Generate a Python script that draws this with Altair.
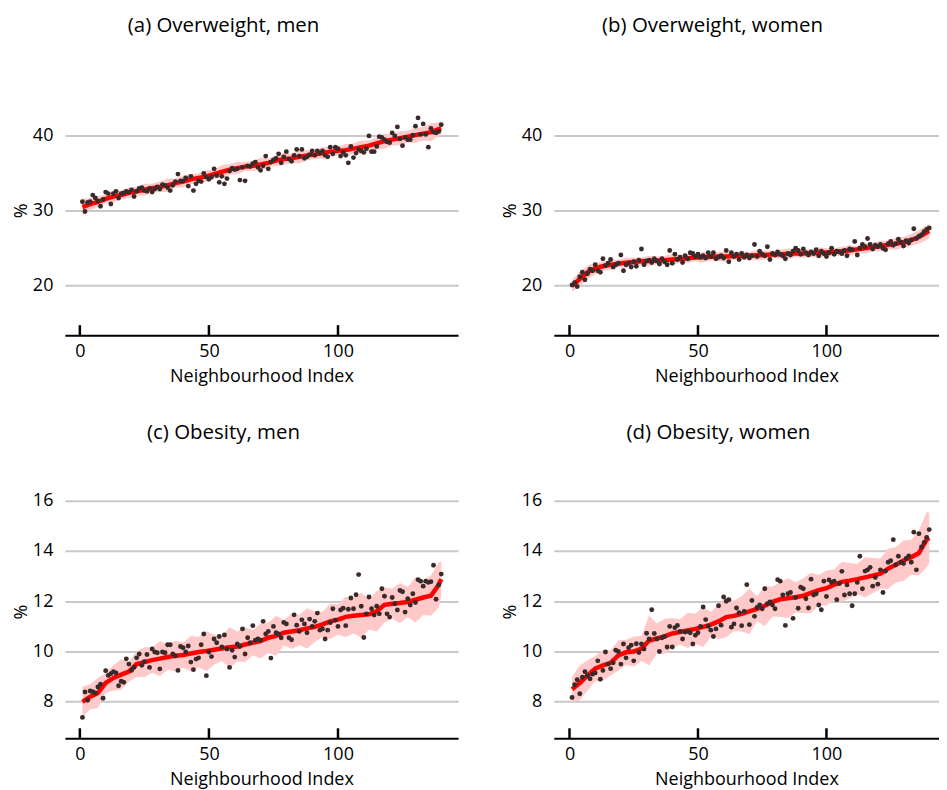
import altair as alt
import pandas as pd

idx = list(range(1, 141))
knots = [1, 4, 7, 10, 13, 16, 19, 22, 25, 28, 31, 34, 37, 40, 43, 46, 49, 52, 55, 58,
         61, 64, 67, 70, 73, 76, 79, 82, 85, 88, 91, 94, 97, 100, 103, 106, 109, 112,
         115, 118, 121, 124, 127, 130, 133, 136, 139, 140]
tick_vals = [0, 50, 100]

titles = ["(a) Overweight, men", "(b) Overweight, women", "(c) Obesity, men", "(d) Obesity, women"]

# ---- (a) Overweight, men ----
pts_a = [31.2, 29.9, 31.1, 31.2, 32.1, 31.7, 31.3, 30.6, 31.5, 32.5,
         32.3, 30.9, 32.3, 32.6, 31.7, 32.3, 32.4, 32.6, 32.5, 32.8,
         31.9, 32.6, 33.0, 33.1, 32.7, 32.6, 33.0, 32.5, 32.9, 33.2,
         32.9, 33.5, 33.4, 33.1, 32.7, 33.4, 33.9, 34.9, 34.0, 34.0,
         34.4, 33.3, 34.6, 32.7, 33.6, 34.0, 33.9, 35.0, 34.5, 34.2,
         34.5, 35.6, 34.7, 33.8, 34.6, 33.6, 34.3, 35.3, 35.7, 35.5,
         35.6, 34.1, 35.8, 34.0, 36.0, 35.9, 36.3, 36.5, 35.8, 35.4,
         36.0, 37.3, 35.6, 36.5, 36.8, 37.0, 37.6, 36.4, 37.2, 37.9,
         36.9, 36.6, 37.4, 38.2, 37.3, 38.2, 37.0, 37.2, 37.5, 38.0,
         37.4, 38.0, 37.7, 38.0, 37.4, 37.2, 38.5, 37.6, 38.5, 38.3,
         37.3, 37.8, 37.4, 36.4, 38.6, 37.1, 37.7, 38.2, 38.0, 37.8,
         38.3, 40.0, 37.9, 37.9, 38.6, 39.9, 39.8, 39.5, 39.2, 39.1,
         40.4, 40.0, 41.2, 39.6, 38.7, 39.8, 39.5, 39.5, 40.1, 41.3,
         42.4, 40.2, 41.6, 40.2, 38.5, 41.0, 40.5, 40.4, 40.6, 41.5]
line_a = [30.5, 30.9, 31.2, 31.6, 31.9, 32.1, 32.4, 32.6, 32.8, 33.0,
          33.2, 33.4, 33.7, 33.9, 34.2, 34.4, 34.6, 34.9, 35.2, 35.5,
          35.7, 35.9, 36.0, 36.2, 36.4, 36.7, 36.9, 37.0, 37.2, 37.4,
          37.5, 37.7, 37.9, 38.0, 38.1, 38.3, 38.5, 38.7, 39.0, 39.3,
          39.5, 39.7, 39.9, 40.1, 40.3, 40.5, 40.9, 41.0]
hw_a = [1.1, 0.8, 0.7, 0.6, 0.8, 0.6, 0.7, 0.6, 0.8, 0.6,
        0.7, 0.9, 0.6, 0.8, 0.7, 0.6, 0.8, 0.6, 0.9, 0.7,
        0.8, 0.6, 0.7, 0.9, 0.6, 0.7, 0.8, 0.6, 0.9, 0.7,
        0.6, 0.8, 0.7, 0.6, 0.8, 0.7, 0.9, 0.7, 0.8, 1.0,
        0.8, 0.9, 0.8, 1.0, 0.9, 1.2, 0.9, 1.0]

# ---- (b) Overweight, women ----
pts_b = [20.1, 20.4, 19.9, 21.2, 21.8, 20.8, 21.6, 22.2, 22.0, 22.8,
         22.0, 21.8, 23.6, 22.7, 23.0, 23.5, 22.5, 22.8, 23.0, 24.1,
         22.0, 22.8, 23.0, 22.5, 23.2, 22.6, 23.4, 24.9, 22.8, 23.3,
         23.4, 23.1, 23.6, 23.3, 22.9, 23.6, 23.2, 22.8, 24.7, 23.0,
         24.2, 23.5, 23.8, 23.1, 24.0, 23.6, 24.4, 24.3, 23.9, 24.2,
         23.8, 24.0, 23.7, 24.4, 23.9, 24.4, 23.6, 23.8, 24.0, 23.7,
         24.7, 23.2, 24.4, 23.9, 24.2, 23.5, 24.3, 23.8, 24.1, 23.7,
         24.0, 25.5, 23.9, 24.6, 24.2, 24.0, 25.2, 23.5, 24.3, 24.1,
         24.5, 24.2, 24.0, 23.6, 24.3, 24.1, 24.6, 25.0, 24.7, 24.2,
         24.9, 24.4, 24.1, 24.5, 24.3, 24.8, 24.0, 24.6, 24.3, 23.9,
         24.4, 25.0, 24.2, 24.6, 24.5, 24.3, 24.7, 24.0, 24.9, 24.8,
         25.9, 24.1, 25.0, 25.5, 25.2, 26.3, 25.5, 24.9, 25.4, 25.2,
         25.5, 25.0, 24.8, 25.6, 25.9, 25.4, 25.6, 26.2, 25.8, 25.3,
         26.0, 25.7, 26.1, 27.6, 26.3, 26.6, 26.8, 27.2, 27.5, 27.7]
line_b = [20.0, 20.9, 21.8, 22.3, 22.6, 22.8, 22.95, 23.05, 23.15, 23.25,
          23.3, 23.35, 23.4, 23.5, 23.55, 23.65, 23.75, 23.8, 23.85, 23.9,
          23.9, 23.95, 24.0, 24.0, 24.05, 24.1, 24.15, 24.2, 24.25, 24.3,
          24.3, 24.35, 24.4, 24.45, 24.5, 24.6, 24.7, 24.85, 25.0, 25.15,
          25.3, 25.45, 25.6, 25.8, 26.1, 26.5, 27.1, 27.3]
hw_b = [0.8, 1.0, 0.9, 0.8, 0.6, 0.7, 0.5, 0.7, 0.6, 0.5,
        0.7, 0.5, 0.6, 0.7, 0.5, 0.6, 0.5, 0.7, 0.5, 0.6,
        0.7, 0.5, 0.6, 0.5, 0.7, 0.6, 0.5, 0.6, 0.7, 0.5,
        0.6, 0.5, 0.7, 0.6, 0.5, 0.6, 0.7, 0.5, 0.7, 0.6,
        0.7, 0.6, 0.8, 0.7, 0.8, 0.9, 1.0, 0.9]

# ---- (c) Obesity, men ----
pts_c = [7.38, 8.39, 8.06, 8.43, 8.40, 8.35, 8.59, 8.70, 8.14, 9.24,
         9.05, 9.12, 9.20, 9.15, 8.64, 8.82, 8.78, 9.71, 9.50, 9.25,
         9.37, 9.75, 9.90, 9.45, 9.60, 9.88, 9.37, 10.10, 9.98, 9.95,
         9.31, 9.98, 9.95, 10.27, 10.27, 9.90, 9.82, 9.25, 10.20, 10.15,
         9.98, 10.22, 9.58, 9.28, 9.70, 9.75, 10.27, 10.70, 9.04, 9.98,
         9.80, 10.50, 10.35, 10.60, 10.18, 10.66, 10.10, 9.37, 10.05, 9.78,
         10.30, 10.20, 10.90, 9.90, 10.55, 10.35, 11.03, 10.45, 10.50, 10.45,
         11.20, 10.70, 10.80, 9.74, 11.00, 10.75, 10.70, 10.55, 11.16, 11.10,
         10.55, 10.47, 11.46, 11.05, 10.80, 11.26, 11.10, 10.75, 11.29, 11.00,
         11.20, 11.53, 10.85, 10.90, 10.50, 10.85, 11.15, 11.70, 11.25, 11.00,
         11.65, 11.72, 11.03, 11.68, 12.13, 11.70, 12.26, 13.06, 11.80, 10.56,
         11.50, 12.17, 11.70, 11.45, 11.80, 11.50, 12.50, 12.20, 11.50, 11.37,
         12.15, 11.90, 11.65, 12.43, 12.38, 11.57, 12.10, 11.85, 12.30, 11.95,
         12.86, 12.80, 12.60, 12.80, 12.75, 12.78, 13.43, 12.08, 12.65, 13.08]
line_c = [8.0, 8.2, 8.35, 8.75, 8.95, 9.08, 9.2, 9.5, 9.58, 9.66,
          9.72, 9.78, 9.83, 9.86, 9.92, 9.98, 10.02, 10.07, 10.12, 10.17,
          10.2, 10.28, 10.35, 10.42, 10.55, 10.62, 10.75, 10.8, 10.85, 10.92,
          10.98, 11.08, 11.2, 11.27, 11.38, 11.42, 11.45, 11.48, 11.6, 11.86,
          11.9, 11.93, 11.97, 12.06, 12.15, 12.22, 12.65, 12.88]
hw_c = [0.6, 0.5, 0.6, 0.4, 0.5, 0.6, 0.4, 0.5, 0.6, 0.5,
        0.7, 0.5, 0.6, 0.5, 0.7, 0.6, 0.8, 0.6, 0.5, 0.8,
        0.6, 0.7, 0.5, 0.7, 0.6, 0.8, 0.5, 0.7, 0.6, 0.8,
        0.6, 0.5, 0.7, 0.6, 0.8, 0.7, 0.9, 0.6, 0.8, 0.7,
        0.6, 0.8, 0.6, 0.9, 0.7, 0.8, 0.9, 0.7]

# ---- (d) Obesity, women ----
pts_d = [8.17, 8.68, 8.88, 8.32, 8.98, 9.20, 9.05, 8.92, 9.10, 9.15,
         9.63, 8.90, 9.25, 9.98, 9.50, 9.32, 9.55, 10.05, 10.00, 9.50,
         10.30, 9.75, 10.15, 10.25, 9.63, 10.31, 9.96, 10.30, 10.10, 10.73,
         10.50, 11.66, 10.72, 10.50, 10.00, 10.55, 10.60, 10.18, 11.00, 10.18,
         10.95, 11.04, 10.80, 10.50, 10.78, 10.80, 10.75, 10.30, 10.65, 10.75,
         11.00, 11.77, 11.27, 11.00, 10.85, 10.60, 10.90, 11.82, 11.05, 12.17,
         12.00, 12.06, 10.97, 11.10, 11.73, 11.55, 11.03, 11.60, 12.66, 11.07,
         12.03, 11.40, 11.75, 11.85, 11.70, 12.50, 11.90, 11.97, 11.85, 11.70,
         12.86, 12.80, 12.25, 11.04, 12.30, 12.35, 11.32, 12.15, 11.72, 12.56,
         12.50, 12.10, 11.73, 12.88, 12.25, 12.30, 11.85, 11.66, 12.80, 12.19,
         12.85, 12.75, 12.80, 12.06, 12.70, 13.19, 12.25, 12.65, 12.30, 11.82,
         12.30, 12.75, 13.79, 12.50, 13.20, 13.25, 13.35, 12.60, 12.95, 12.68,
         13.25, 12.35, 13.20, 13.55, 13.61, 14.45, 13.45, 13.79, 13.55, 13.50,
         13.70, 13.80, 13.55, 14.75, 13.25, 14.69, 14.16, 14.34, 14.54, 14.85]
line_d = [8.5, 8.75, 9.05, 9.32, 9.45, 9.55, 9.85, 9.97, 10.0, 10.12,
          10.44, 10.52, 10.6, 10.72, 10.78, 10.84, 10.9, 10.98, 11.07, 11.2,
          11.37, 11.42, 11.5, 11.6, 11.7, 11.82, 11.98, 12.08, 12.12, 12.16,
          12.22, 12.33, 12.44, 12.52, 12.66, 12.77, 12.82, 12.88, 12.95, 13.02,
          13.1, 13.3, 13.45, 13.62, 13.75, 13.92, 14.45, 14.52]
hw_d = [0.5, 0.7, 0.6, 0.5, 0.6, 0.5, 0.6, 0.5, 0.6, 0.5,
        1.0, 0.6, 0.7, 0.6, 0.5, 0.7, 0.6, 0.8, 0.5, 0.7,
        0.8, 0.6, 0.7, 0.9, 0.5, 0.8, 0.6, 0.7, 0.8, 0.6,
        0.7, 0.8, 0.6, 0.7, 0.6, 0.8, 0.7, 0.6, 0.8, 0.7,
        0.6, 0.8, 0.7, 0.8, 0.7, 0.9, 1.1, 1.0]

FONT_AX = "Open Sans"
FONT_T = "Open Sans"
PT_COLOR = "#3b2a2a"


def panel(pts, line, hw, title, ydom, ygrid, xdom, w, h, tdx, ty):
    dp = pd.DataFrame({"i": idx, "v": pts})
    dl = pd.DataFrame({"i": knots, "est": line,
                       "lo": [a - b for a, b in zip(line, hw)],
                       "hi": [a + b for a, b in zip(line, hw)]})
    dt = pd.DataFrame({"t": tick_vals})
    xs = alt.Scale(domain=xdom, nice=False, zero=False)
    ys = alt.Scale(domain=ydom, nice=False, zero=False)
    xax = alt.Axis(values=tick_vals, title="Neighbourhood Index", grid=False,
                   domainColor="black", domainWidth=2, tickSize=0,
                   labelPadding=7, labelFontSize=18, labelFont=FONT_AX, labelColor="black",
                   titleFontSize=18, titleFont=FONT_AX, titleFontWeight="normal",
                   titleColor="black", titlePadding=7)
    yax = alt.Axis(values=ygrid, title="%", domain=False, ticks=False, grid=True,
                   gridColor="#c8c8c8", gridWidth=2, labelPadding=12,
                   labelFontSize=18, labelFont=FONT_AX, labelColor="black",
                   titleFontSize=18, titleFont=FONT_AX, titleFontWeight="normal",
                   titleColor="black", titlePadding=2, titleY=ty)
    band = alt.Chart(dl).mark_area(color="#ffc9c9", opacity=1).encode(
        x=alt.X("i:Q", scale=xs, axis=xax),
        y=alt.Y("lo:Q", scale=ys, axis=yax),
        y2="hi:Q")
    ln = alt.Chart(dl).mark_line(color="#ff0000", strokeWidth=4.5).encode(
        x=alt.X("i:Q", scale=xs), y=alt.Y("est:Q", scale=ys))
    dots = alt.Chart(dp).mark_circle(color=PT_COLOR, opacity=1, size=24).encode(
        x=alt.X("i:Q", scale=xs), y=alt.Y("v:Q", scale=ys))
    ticks = alt.Chart(dt).mark_rule(color="black", strokeWidth=2.5).encode(
        x=alt.X("t:Q", scale=xs), y=alt.value(h - 10), y2=alt.value(h))
    return alt.layer(band, ln, dots, ticks).properties(
        width=w, height=h,
        title=alt.TitleParams(title, fontSize=20.5, font=FONT_T, fontWeight="normal",
                              anchor="middle", offset=1, dx=tdx, color="black"))


pa = panel(pts_a, line_a, hw_a, titles[0], [13.4, 53.1], [20, 30, 40], [-5.8, 146.5], 394, 298, -38, 173)
pb = panel(pts_b, line_b, hw_b, titles[1], [13.4, 53.1], [20, 30, 40], [-6.1, 143.8], 386, 298, -34, 173)
pc = panel(pts_c, line_c, hw_c, titles[2], [6.55, 18.22], [8, 10, 12, 14, 16], [-5.8, 146.5], 394, 294, -38, 167)
pd_ = panel(pts_d, line_d, hw_d, titles[3], [6.55, 18.22], [8, 10, 12, 14, 16], [-6.1, 143.8], 386, 294, -28, 167)

chart = alt.vconcat(
    alt.hconcat(pa, pb, spacing=43),
    alt.hconcat(pc, pd_, spacing=43),
    spacing=38,
).properties(padding={"left": 4, "top": 7, "right": 0, "bottom": 0}).configure_view(stroke=None)

chart.save("out.html", embed_options={"renderer": "svg", "actions": False})
